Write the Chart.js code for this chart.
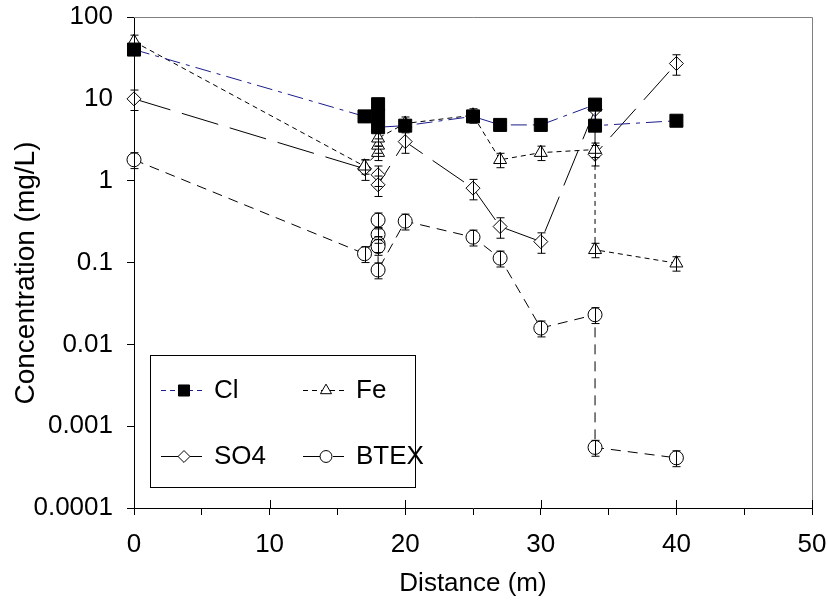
<!DOCTYPE html>
<html>
<head>
<meta charset="utf-8">
<title>Concentration vs distance</title>
<script src="https://cdn.jsdelivr.net/npm/chart.js@4.4.1/dist/chart.umd.min.js"></script>
<style>
  html, body { margin: 0; padding: 0; background: #fff; }
  #chart { display: block; }
</style>
</head>
<body>
<canvas id="chart" width="828" height="601"></canvas>
<script>
// ===== Data =====
const clX = [0, 17, 18, 18, 18, 20, 25, 27, 30, 34, 34, 40];
const clY = [40, 6.1, 8.6, 6.2, 4.5, 4.7, 6.1, 4.8, 4.8, 8.5, 4.7, 5.4];

const feX = [0, 17, 18, 18, 18, 20, 25, 27, 30, 34, 34, 40];
const feY = [50, 1.5, 2.2, 2.7, 3.3, 5.0, 6.3, 1.8, 2.2, 2.4, 0.143, 0.098];

const so4X = [0, 17, 18, 18, 20, 25, 27, 30, 34, 34, 40];
const so4Y = [10, 1.4, 1.18, 0.89, 3.0, 0.81, 0.275, 0.18, 7.4, 2.1, 27];

const btexX = [0, 17, 18, 18, 18, 18, 18, 20, 25, 27, 30, 34, 34, 40];
const btexY = [1.8, 0.128, 0.22, 0.33, 0.17, 0.157, 0.081, 0.32, 0.204, 0.113, 0.0158, 0.023, 0.00055, 0.00041];

// relative size of the error bars, per series (Cl, Fe, SO4, BTEX)
const errFrac = [0.15, 0.2, 0.28, 0.22];

const yTicks = [0.0001, 0.001, 0.01, 0.1, 1, 10, 100];
const xMin = 0, xMax = 50;
const yTitle = 'Concentration (mg/L)';

const FONT = '"Liberation Sans", Arial, sans-serif';

const pts = (xs, ys) => xs.map((x, i) => ({ x, y: ys[i] }));

// ===== Plugins =====
// frame on top/right + inward half of the major x ticks
const framePlugin = {
    id: 'frame',
    beforeDatasetsDraw(chart) {
        const { ctx, chartArea: a, scales } = chart;
        ctx.save();
        ctx.lineWidth = 1;
        ctx.strokeStyle = '#808080';
        ctx.beginPath();
        ctx.moveTo(a.left, a.top + 0.5);
        ctx.lineTo(a.right + 0.5, a.top + 0.5);
        ctx.lineTo(a.right + 0.5, a.bottom);
        ctx.stroke();
        ctx.strokeStyle = '#000';
        ctx.beginPath();
        for (let v = 10; v <= xMax; v += 10) {
            const px = Math.round(scales.x.getPixelForValue(v)) + 0.5;
            ctx.moveTo(px, a.bottom);
            ctx.lineTo(px, a.bottom - 8);
        }
        ctx.stroke();
        ctx.restore();
    },
    afterDraw(chart) {
        // y axis title, a bit below the middle of the axis as in the original
        const ctx = chart.ctx;
        ctx.save();
        ctx.translate(26, 273);
        ctx.rotate(-Math.PI / 2);
        ctx.fillStyle = '#000';
        ctx.font = '28px ' + FONT;
        ctx.textAlign = 'center';
        ctx.textBaseline = 'middle';
        ctx.fillText(yTitle, 0, 0);
        ctx.restore();
    }
};

// vertical error bars with caps
const errorBarPlugin = {
    id: 'errorBars',
    afterDatasetsDraw(chart) {
        const { ctx, scales } = chart;
        ctx.save();
        ctx.strokeStyle = '#000';
        ctx.lineWidth = 1;
        chart.data.datasets.forEach((ds, i) => {
            ds.data.forEach(p => {
                const e = p.y * errFrac[i];
                const px = Math.round(scales.x.getPixelForValue(p.x)) + 0.5;
                const yTop = scales.y.getPixelForValue(p.y + e);
                const yBot = scales.y.getPixelForValue(p.y - e);
                ctx.beginPath();
                ctx.moveTo(px, yTop); ctx.lineTo(px, yBot);
                ctx.moveTo(px - 4, yTop); ctx.lineTo(px + 4, yTop);
                ctx.moveTo(px - 4, yBot); ctx.lineTo(px + 4, yBot);
                ctx.stroke();
            });
        });
        ctx.restore();
    }
};

// boxed legend inside the plot, two columns
const legendPlugin = {
    id: 'boxLegend',
    afterDraw(chart) {
        const ctx = chart.ctx;
        const box = { left: 150, top: 355, right: 415, bottom: 487 };
        const slots = [[161, 390], [303, 390], [161, 456], [303, 456]];
        ctx.save();
        ctx.fillStyle = '#fff';
        ctx.fillRect(box.left, box.top, box.right - box.left, box.bottom - box.top);
        ctx.strokeStyle = '#000';
        ctx.lineWidth = 1;
        ctx.strokeRect(box.left + 0.5, box.top + 0.5, box.right - box.left, box.bottom - box.top);

        chart.data.datasets.forEach((ds, i) => {
            const [x0, y] = slots[i];
            ctx.strokeStyle = ds.borderColor;
            ctx.lineWidth = ds.borderWidth;
            ctx.setLineDash(ds.legendDash || ds.borderDash || []);
            ctx.beginPath();
            ctx.moveTo(x0, y + 0.5);
            ctx.lineTo(x0 + 41, y + 0.5);
            ctx.stroke();
            ctx.setLineDash([]);
            ctx.fillStyle = ds.pointBackgroundColor;
            ctx.strokeStyle = ds.pointBorderColor;
            ctx.lineWidth = 1;
            Chart.helpers.drawPoint(ctx, {
                pointStyle: ds.pointStyle,
                radius: ds.pointRadius * 0.85,
                rotation: 0,
                borderWidth: 1
            }, x0 + 23, y + 0.5);

            ctx.fillStyle = '#000';
            ctx.font = '26px ' + FONT;
            ctx.textBaseline = 'middle';
            ctx.textAlign = 'left';
            ctx.fillText(ds.label, x0 + 53, y + 1);
        });
        ctx.restore();
    }
};

// ===== Chart =====
const common = {
    showLine: true,
    borderWidth: 1,
    pointBorderWidth: 1,
    pointBorderColor: '#000',
    pointBackgroundColor: '#fff',
    tension: 0,
    clip: false
};

new Chart(document.getElementById('chart'), {
    type: 'line',
    data: {
        datasets: [
            {
                ...common, label: 'Cl', data: pts(clX, clY),
                borderColor: '#1c1c8c', borderDash: [16, 6, 4, 6], legendDash: [5, 4],
                pointStyle: 'rect', pointRadius: 9.2, pointBackgroundColor: '#000'
            },
            {
                ...common, label: 'Fe', data: pts(feX, feY),
                borderColor: '#000', borderDash: [5, 4],
                pointStyle: 'triangle', pointRadius: 7.5
            },
            {
                ...common, label: 'SO4', data: pts(so4X, so4Y),
                borderColor: '#000', borderDash: [38, 12], legendDash: [],
                pointStyle: 'rectRot', pointRadius: 7
            },
            {
                ...common, label: 'BTEX', data: pts(btexX, btexY),
                borderColor: '#000', borderDash: [10, 7], legendDash: [18, 4, 4, 4],
                pointStyle: 'circle', pointRadius: 7
            }
        ]
    },
    options: {
        responsive: false,
        animation: false,
        devicePixelRatio: 1,
        layout: { padding: { left: 0, top: 17, right: 16, bottom: 0 } },
        plugins: {
            legend: { display: false },
            tooltip: { enabled: false }
        },
        scales: {
            x: {
                type: 'linear',
                min: xMin, max: xMax,
                afterFit: s => { s.height = 93; s.paddingLeft = 0; s.paddingRight = 0; },
                ticks: {
                    stepSize: 5,
                    color: '#000',
                    font: { family: FONT, size: 26 },
                    padding: 14,
                    maxRotation: 0,
                    autoSkip: false,
                    callback: v => (v % 10 === 0 ? String(v) : '')
                },
                grid: { drawOnChartArea: false, color: '#000', tickLength: 7 },
                border: { color: '#000', width: 1 },
                title: {
                    display: true, text: 'Distance (m)', color: '#000',
                    font: { family: FONT, size: 26 }, padding: { top: 0, bottom: 2 }
                }
            },
            y: {
                type: 'logarithmic',
                min: yTicks[0], max: yTicks[yTicks.length - 1],
                afterFit: s => { s.width = 134; s.paddingTop = 0; s.paddingBottom = 0; },
                afterBuildTicks: s => { s.ticks = yTicks.map(v => ({ value: v })); },
                ticks: {
                    color: '#000',
                    font: { family: FONT, size: 26 },
                    padding: 14,
                    autoSkip: false,
                    callback: v => String(v)
                },
                grid: { drawOnChartArea: false, color: '#000', tickLength: 7 },
                border: { color: '#000', width: 1 },
                title: { display: false }
            }
        }
    },
    plugins: [framePlugin, errorBarPlugin, legendPlugin]
});
</script>
</body>
</html>
